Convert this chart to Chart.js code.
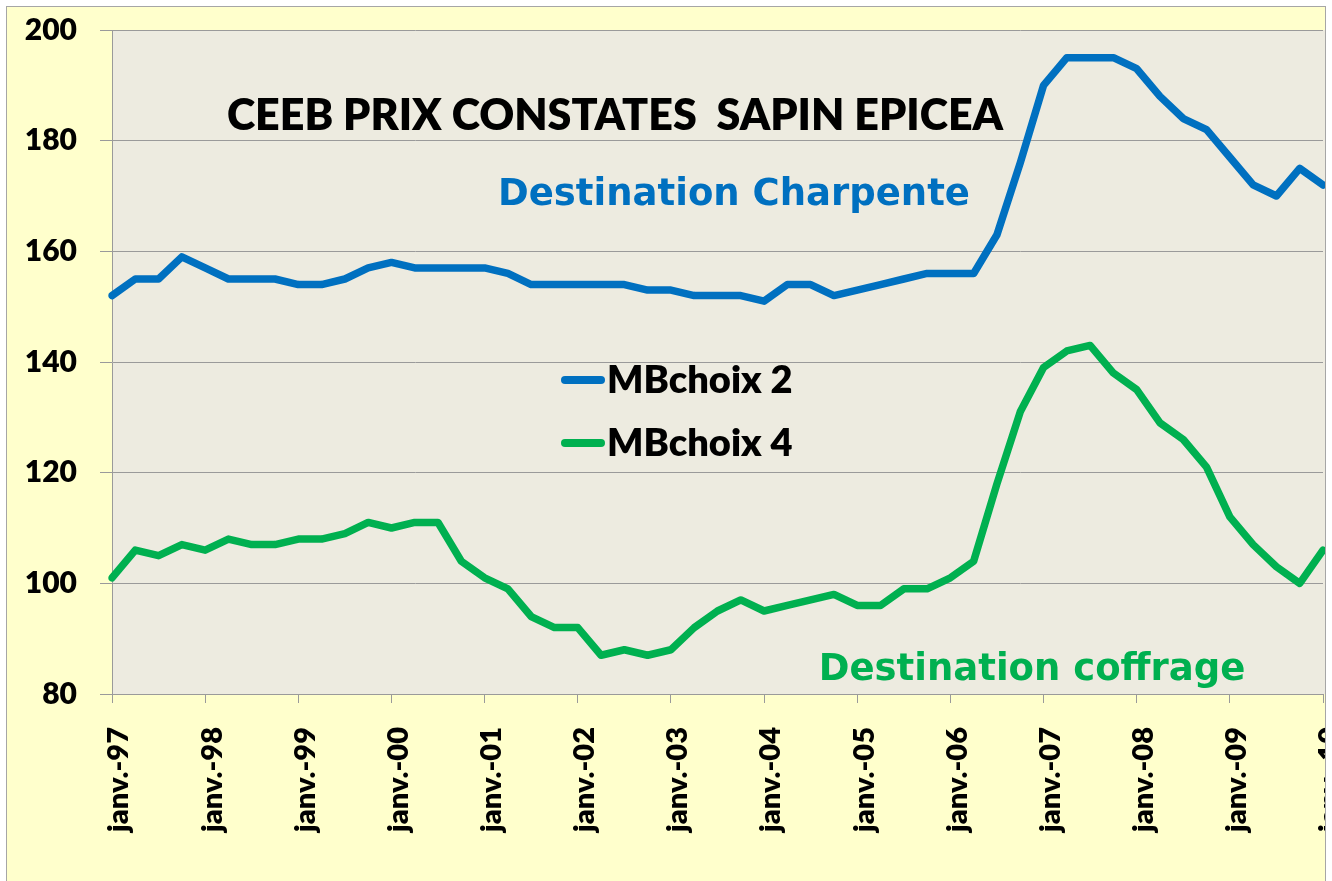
<!DOCTYPE html>
<html>
<head>
<meta charset="utf-8">
<script src="https://cdn.jsdelivr.net/npm/chart.js@4.4.1/dist/chart.umd.min.js"></script>
<style>
  body { margin: 0; background: #ffffff; }
  #frame {
    position: absolute; left: 6px; top: 6px;
    width: 1320px; height: 890px;
    box-sizing: border-box;
    border: 1px solid #a6a6a6;
    background: #ffffcc;
    overflow: hidden;
  }
  #chart { position: absolute; left: 0; top: 0; }
</style>
</head>
<body>
<div id="frame"><canvas id="chart" width="1318" height="880"></canvas></div>
<script>
// quarterly dates, janv.-97 .. janv.-10
const quarters = [
  'janv.-97','avr.-97','juil.-97','oct.-97',
  'janv.-98','avr.-98','juil.-98','oct.-98',
  'janv.-99','avr.-99','juil.-99','oct.-99',
  'janv.-00','avr.-00','juil.-00','oct.-00',
  'janv.-01','avr.-01','juil.-01','oct.-01',
  'janv.-02','avr.-02','juil.-02','oct.-02',
  'janv.-03','avr.-03','juil.-03','oct.-03',
  'janv.-04','avr.-04','juil.-04','oct.-04',
  'janv.-05','avr.-05','juil.-05','oct.-05',
  'janv.-06','avr.-06','juil.-06','oct.-06',
  'janv.-07','avr.-07','juil.-07','oct.-07',
  'janv.-08','avr.-08','juil.-08','oct.-08',
  'janv.-09','avr.-09','juil.-09','oct.-09',
  'janv.-10'
];

const mbChoix2 = [152,155,155,159,157,155,155,155,154,154,155,157,158,157,157,157,
  157,156,154,154,154,154,154,153,153,152,152,152,151,154,154,152,153,154,155,156,
  156,156,163,176,190,195,195,195,193,188,184,182,177,172,170,175,172];

const mbChoix4 = [101,106,105,107,106,108,107,107,108,108,109,111,110,111,111,104,
  101,99,94,92,92,87,88,87,88,92,95,97,95,96,97,98,96,96,99,99,
  101,104,118,131,139,142,143,138,135,129,126,121,112,107,103,100,106];

const yTicks = [80, 100, 120, 140, 160, 180, 200];

const BLUE = '#0070c0';
const GREEN = '#00b050';
const GRID = '#9a9a9a';

// plot area background
const plotBg = {
    id: 'plotBg',
    beforeDraw(chart) {
        const a = chart.chartArea;
        const ctx = chart.ctx;
        ctx.save();
        ctx.fillStyle = '#edebe0';
        ctx.fillRect(a.left, a.top, chart.width - a.left, a.bottom - a.top);
        ctx.restore();
    }
};

// titles and the legend drawn inside the plot
const annotations = {
    id: 'annotations',
    afterDatasetsDraw(chart) {
        const ctx = chart.ctx;
        ctx.save();
        ctx.textAlign = 'center';
        ctx.textBaseline = 'alphabetic';
        ctx.fillStyle = '#000000';
        ctx.font = '800 43px Lato, sans-serif';
        ctx.fillText('CEEB PRIX CONSTATES  SAPIN EPICEA', 608, 123);

        ctx.font = 'bold 37px "Comic Sans MS", "DejaVu Sans", sans-serif';
        ctx.fillStyle = BLUE;
        ctx.fillText('Destination Charpente', 727, 198);
        ctx.fillStyle = GREEN;
        ctx.fillText('Destination coffrage', 1025, 673);

        // legend
        const rows = [373, 436];
        ctx.textAlign = 'left';
        ctx.textBaseline = 'middle';
        ctx.font = '800 38px Lato, sans-serif';
        chart.data.datasets.forEach((ds, i) => {
            ctx.strokeStyle = ds.borderColor;
            ctx.lineWidth = 8;
            ctx.lineCap = 'round';
            ctx.beginPath();
            ctx.moveTo(558, rows[i]);
            ctx.lineTo(594, rows[i]);
            ctx.stroke();
            ctx.fillStyle = '#000000';
            ctx.fillText(ds.label, 600, rows[i] + 1);
        });
        ctx.restore();
    }
};

new Chart(document.getElementById('chart'), {
    type: 'line',
    data: {
        labels: quarters,
        datasets: [
            {
                label: 'MBchoix 2',
                data: mbChoix2,
                borderColor: BLUE,
                backgroundColor: BLUE,
                borderWidth: 7.5,
                pointRadius: 0,
                tension: 0,
                borderJoinStyle: 'round',
                borderCapStyle: 'round'
            },
            {
                label: 'MBchoix 4',
                data: mbChoix4,
                borderColor: GREEN,
                backgroundColor: GREEN,
                borderWidth: 7.5,
                pointRadius: 0,
                tension: 0,
                borderJoinStyle: 'round',
                borderCapStyle: 'round'
            }
        ]
    },
    options: {
        responsive: false,
        animation: false,
        layout: { padding: { top: 23, right: 2, left: 0, bottom: 0 } },
        plugins: {
            legend: { display: false },
            tooltip: { enabled: false }
        },
        scales: {
            x: {
                type: 'category',
                offset: false,
                afterFit(scale) {
                    scale.height = 193;
                    scale.paddingLeft = 0;
                    scale.paddingRight = 0;
                },
                grid: {
                    drawOnChartArea: false,
                    drawTicks: true,
                    tickLength: 9,
                    color: ctx => (ctx.index % 4 === 0 ? GRID : 'rgba(0,0,0,0)')
                },
                border: { display: true, color: GRID, width: 1 },
                ticks: {
                    autoSkip: false,
                    minRotation: 90,
                    maxRotation: 90,
                    padding: 24,
                    labelOffset: 7,
                    color: '#000000',
                    font: { family: 'Lato, sans-serif', size: 29, weight: '800' },
                    callback: function(value, index) {
                        return index % 4 === 0 ? this.getLabelForValue(value) : '';
                    }
                }
            },
            y: {
                min: yTicks[0],
                max: yTicks[yTicks.length - 1],
                afterFit(scale) {
                    scale.width = 105;
                    scale.paddingTop = 0;
                    scale.paddingBottom = 0;
                },
                afterBuildTicks(scale) {
                    scale.ticks = yTicks.map(v => ({ value: v }));
                },
                grid: {
                    color: GRID,
                    lineWidth: 1,
                    drawTicks: true,
                    tickLength: 12
                },
                border: { display: true, color: GRID, width: 1 },
                ticks: {
                    padding: 23,
                    color: '#000000',
                    font: { family: 'Lato, sans-serif', size: 30, weight: '800' }
                }
            }
        }
    },
    plugins: [plotBg, annotations]
});
</script>
</body>
</html>
